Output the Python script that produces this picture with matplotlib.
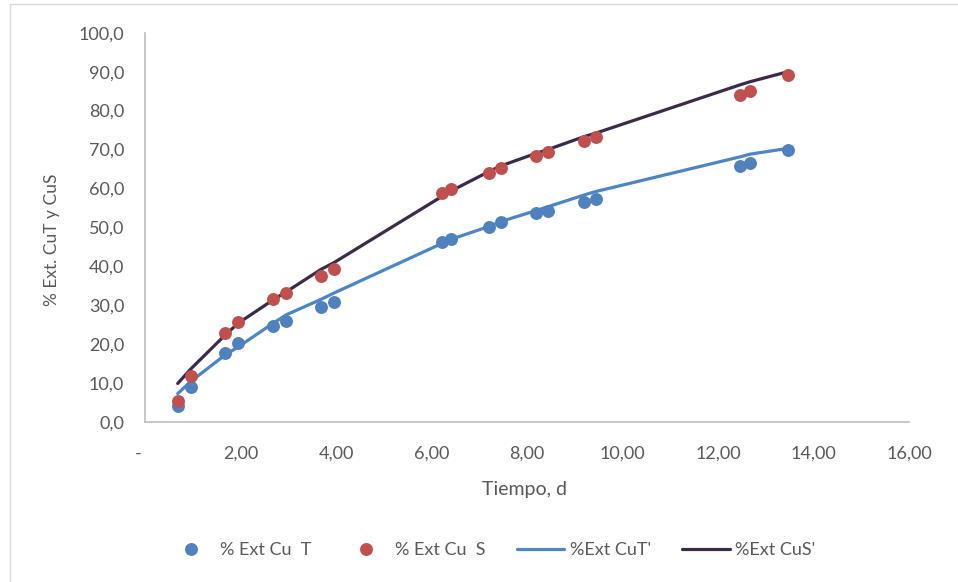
import matplotlib
matplotlib.use("Agg")
import matplotlib.pyplot as plt
from matplotlib.ticker import FuncFormatter, MultipleLocator
from matplotlib.patches import Rectangle

# Leaching time (days)
tiempo = [0.685, 0.957, 1.675, 1.954, 2.687, 2.953, 3.686, 3.952, 6.226, 6.402,
          7.198, 7.455, 8.188, 8.440, 9.194, 9.439, 12.46, 12.67, 13.47]

# Measured extraction (%)
ext_cut = [4.2, 9.1, 17.8, 20.2, 24.7, 26.0, 29.5, 30.9, 46.2, 46.9,
           50.2, 51.3, 53.6, 54.3, 56.6, 57.3, 65.8, 66.6, 69.9]
ext_cus = [5.5, 11.8, 22.9, 25.8, 31.5, 33.2, 37.5, 39.4, 58.7, 59.9,
           64.0, 65.3, 68.3, 69.3, 72.3, 73.1, 84.0, 84.9, 89.1]

# Model extraction (%)
mod_cut = [7.3, 10.4, 17.2, 19.3, 25.4, 27.5, 31.5, 33.1, 45.9, 46.9,
           50.2, 51.5, 54.3, 55.3, 58.3, 59.2, 68.1, 68.8, 70.3]
mod_cus = [9.9, 13.6, 22.3, 25.4, 31.4, 33.4, 39.2, 40.9, 58.0, 59.3,
           64.3, 65.8, 69.0, 70.0, 73.3, 74.2, 86.6, 87.4, 90.0]

labels = ["% Ext Cu  T", "% Ext Cu  S", "%Ext CuT'", "%Ext CuS'"]

TXT = "#595959"
plt.rcParams["font.family"] = ["Lato", "DejaVu Sans"]
plt.rcParams["font.size"] = 13

W, H = 958, 582
fig = plt.figure(figsize=(W / 100, H / 100), dpi=100)

# chart-area frame
fig.patches.append(Rectangle((10 / W, -0.1), 1.2, (H - 4) / H + 0.1,
                             transform=fig.transFigure, fill=False,
                             edgecolor="#D9D9D9", linewidth=1.0))

ax = fig.add_axes([145 / W, 1 - 422 / H, (909 - 145) / W, (422 - 32.7) / H])

h3, = ax.plot(tiempo, mod_cut, color="#4A86C8", lw=2.3, zorder=2,
              solid_capstyle="round", label=labels[2])
h4, = ax.plot(tiempo, mod_cus, color="#3B2A4C", lw=2.3, zorder=2,
              solid_capstyle="round", label=labels[3])
h1, = ax.plot(tiempo, ext_cut, "o", color="#4F81BD", ms=9.3, mec="none",
              zorder=3, label=labels[0])
h2, = ax.plot(tiempo, ext_cus, "o", color="#C0504D", ms=9.3, mec="none",
              zorder=4, label=labels[1])

ax.set_xlim(0, 16)
ax.set_ylim(0, 100)
ax.xaxis.set_major_locator(MultipleLocator(2))
ax.yaxis.set_major_locator(MultipleLocator(10))
ax.xaxis.set_major_formatter(FuncFormatter(
    lambda v, p: "-   " if abs(v) < 1e-9 else f"{v:.2f}".replace(".", ",")))
ax.yaxis.set_major_formatter(FuncFormatter(
    lambda v, p: f"{v:.1f}".replace(".", ",")))

for s in ("top", "right"):
    ax.spines[s].set_visible(False)
for s in ("left", "bottom"):
    ax.spines[s].set_color("#BFBFBF")
    ax.spines[s].set_linewidth(1.2)

ax.tick_params(axis="both", length=0, colors=TXT, labelsize=13)
ax.tick_params(axis="y", pad=15)
ax.tick_params(axis="x", pad=17)

ax.set_xlabel("Tiempo, d", color=TXT, fontsize=14)
ax.set_ylabel("% Ext. CuT y CuS", color=TXT, fontsize=12.5)
ax.xaxis.set_label_coords((525 - 145) / 764, (422 - 481) / 389.3)
ax.yaxis.set_label_coords((60 - 145) / 764, (422 - 240) / 389.3)

fig.legend(handles=[h1, h2, h3, h4], labels=labels, loc="center",
           bbox_to_anchor=(491 / W, 1 - 550 / H), ncol=4, frameon=False,
           handlelength=2.65, handletextpad=0.3, columnspacing=1.7,
           borderpad=0, fontsize=13, labelcolor=TXT, markerscale=1.0)

fig.savefig("out.png", dpi=100)
